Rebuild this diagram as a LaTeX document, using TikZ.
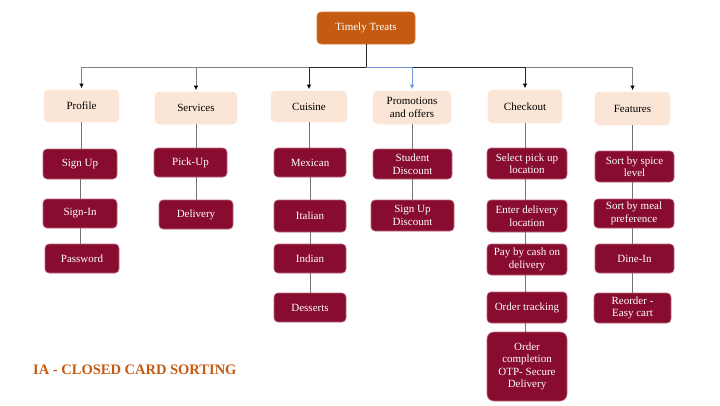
\documentclass[tikz,border=0pt]{standalone}
\usepackage{fontspec}
\setmainfont{Liberation Serif}
\usetikzlibrary{arrows.meta}

\definecolor{rootorange}{HTML}{C55A11}
\definecolor{peach}{HTML}{FBE5D6}
\definecolor{wine}{HTML}{870C2F}
\definecolor{wineedge}{HTML}{B8677C}
\definecolor{linkblue}{HTML}{6F94D8}

\tikzset{
  box/.style={rounded corners=4pt, align=center, inner sep=1pt,
    font=\fontsize{11}{12.5}\selectfont},
  rootbox/.style={box, fill=rootorange, draw=rootorange!80!white, line width=0.6pt, text=white},
  catbox/.style={box, fill=peach, draw=peach!70!white, line width=0.6pt, text=black},
  itembox/.style={box, fill=wine, draw=wineedge, line width=0.6pt, text=white},
  branch/.style={line width=1pt, shorten >=1.5pt},
  darktip/.style={-{Latex[length=4.5pt,width=4.5pt,color=black]}},
  bluetip/.style={-{Latex[length=4.5pt,width=4.5pt,color=linkblue]}},
  vline/.style={line width=0.9pt, draw=black!55},
}
% place a box by its centre and its size
\newcommand{\cardat}[6]{\node[#1, minimum width=#4pt, minimum height=#5pt] (#2) at (#3) {#6};}

\begin{document}
\begin{tikzpicture}[x=1pt,y=-1pt]
\useasboundingbox (0,0) rectangle (720,405);

% root
\cardat{rootbox}{root}{366,28}{98}{32}{Timely Treats}

% categories
\cardat{catbox}{profile}{81.5,106}{75}{32}{Profile}
\cardat{catbox}{services}{196,108}{82}{32}{Services}
\cardat{catbox}{cuisine}{309,106.5}{76}{31}{Cuisine}
\cardat{catbox}{promo}{412,107.5}{78}{33}{Promotions\\and offers}
\cardat{catbox}{checkout}{525,106.5}{74}{33}{Checkout}
\cardat{catbox}{features}{632.5,108.5}{75}{33}{Features}

% cards: Profile
\cardat{itembox}{signup}{80,164}{74}{30}{Sign Up}
\cardat{itembox}{signin}{80,213.5}{74}{29}{Sign-In}
\cardat{itembox}{password}{82,258.5}{74}{29}{Password}
% cards: Services
\cardat{itembox}{pickup}{190.5,162.5}{73}{29}{Pick-Up}
\cardat{itembox}{delivery}{196,214.5}{74}{29}{Delivery}
% cards: Cuisine
\cardat{itembox}{mexican}{310,162.5}{72}{29}{Mexican}
\cardat{itembox}{italian}{310,216}{72}{32}{Italian}
\cardat{itembox}{indian}{310,258.5}{72}{29}{Indian}
\cardat{itembox}{desserts}{310,307.5}{72}{29}{Desserts}
% cards: Promotions
\cardat{itembox}{student}{412.5,164}{79}{30}{Student\\Discount}
\cardat{itembox}{signupdisc}{412.5,215.5}{83}{31}{Sign Up\\Discount}
% cards: Checkout
\cardat{itembox}{selectpick}{527,163.5}{80}{31}{Select pick up\\location}
\cardat{itembox}{enterdel}{527,216}{80}{32}{Enter delivery\\location}
\cardat{itembox}{paycash}{527,259.5}{80}{31}{Pay by cash on\\delivery}
\cardat{itembox}{ordertrack}{527,307.5}{80}{31}{Order tracking}
\node[itembox, rounded corners=7pt, minimum width=80pt, minimum height=69pt] (ordercomp) at (527,366.5) {Order\\completion\\OTP- Secure\\Delivery};
% cards: Features
\cardat{itembox}{spice}{634.5,166.5}{79}{31}{Sort by spice\\level}
\cardat{itembox}{meal}{634,213.5}{80}{29}{Sort by meal\\preference}
\cardat{itembox}{dinein}{634.5,258.5}{79}{29}{Dine-In}
\cardat{itembox}{reorder}{632.5,308}{77}{30}{Reorder -\\Easy cart}

% title
\node[anchor=west, text=rootorange, font=\fontsize{14.5}{16}\selectfont\bfseries, inner sep=0pt] (title) at (33,370) {IA - CLOSED CARD SORTING};

% bus level under the root
\coordinate (bus) at (366,67);

% root to categories
\draw[branch, darktip, draw=black!50] (root.south) -- (root.south |- bus) -| (features.north);
\draw[branch, darktip, draw=black!50] (root.south) -- (root.south |- bus) -| (profile.north);
\draw[branch, darktip, draw=black!50] (root.south) -- (root.south |- bus) -| (services.north);
\draw[branch, darktip, draw=black!85] (root.south) -- (root.south |- bus) -| (checkout.north);
\draw[branch, darktip, draw=black!85] (root.south) -- (root.south |- bus) -| (cuisine.north);
\draw[branch, bluetip, draw=linkblue] (root.south |- bus) -| (promo.north);
\draw[line width=1pt, draw=black!85] (root.south) -- (root.south |- bus);

% category columns
\draw[vline] (profile.south) -- (profile.south |- signup.north);
\draw[vline] (signup.south) -- (signup.south |- signin.north);
\draw[vline] (signin.south) -- (signin.south |- password.north);

\draw[vline] (services.south) -- (services.south |- pickup.north);
\draw[vline] (services.south |- pickup.south) -- (services.south |- delivery.north);

\draw[vline] (cuisine.south) -- (cuisine.south |- mexican.north);
\draw[vline] (mexican.south) -- (mexican.south |- italian.north);
\draw[vline] (italian.south) -- (italian.south |- indian.north);
\draw[vline] (indian.south) -- (indian.south |- desserts.north);

\draw[vline] (promo.south) -- (promo.south |- student.north);
\draw[vline] (student.south) -- (student.south |- signupdisc.north);

\draw[vline] (checkout.south) -- (checkout.south |- selectpick.north);
\draw[vline] (checkout.south |- selectpick.south) -- (checkout.south |- enterdel.north);
\draw[vline] (checkout.south |- enterdel.south) -- (checkout.south |- paycash.north);
\draw[vline] (checkout.south |- paycash.south) -- (checkout.south |- ordertrack.north);
\draw[vline] (checkout.south |- ordertrack.south) -- (checkout.south |- ordercomp.north);

\draw[vline] (features.south) -- (features.south |- spice.north);
\draw[vline] (features.south |- spice.south) -- (features.south |- meal.north);
\draw[vline] (features.south |- meal.south) -- (features.south |- dinein.north);
\draw[vline] (features.south |- dinein.south) -- (features.south |- reorder.north);
\end{tikzpicture}
\end{document}
